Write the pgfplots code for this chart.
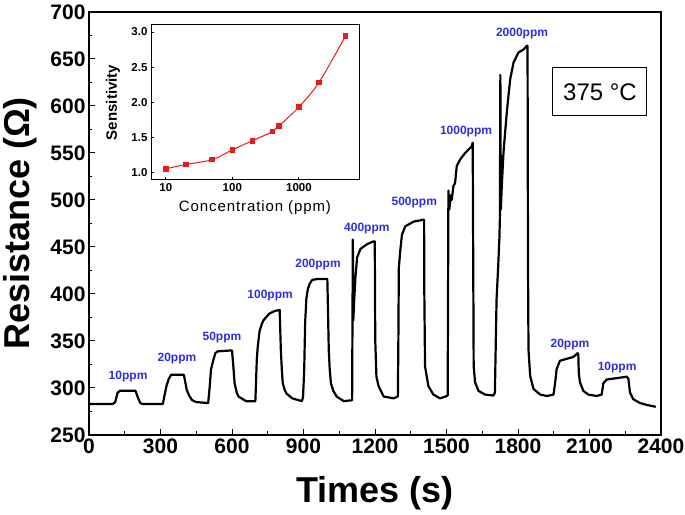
\documentclass[border=0pt]{standalone}
\usepackage{fontspec}
\setmainfont{Liberation Sans}
\usepackage{pgfplots}
\pgfplotsset{compat=1.18}
\definecolor{lblblue}{RGB}{45,45,225}
\definecolor{myred}{RGB}{235,25,25}
\begin{document}
\begin{tikzpicture}
\begin{axis}[
 name=main, scale only axis, width=572pt, height=423pt,
 xmin=0, xmax=2400, ymin=250, ymax=700,
 xtick={0,300,...,2400}, ytick={250,300,...,700},
 minor x tick num=1, minor y tick num=1,
 tick align=inside, xtick pos=bottom, ytick pos=left,
 major tick length=6pt, minor tick length=3.5pt,
 axis line style={line width=1.2pt},
 every tick/.style={line width=1pt, black},
 /pgf/number format/assume math mode=true,
 /pgf/number format/1000 sep={},
 tick label style={font=\fontsize{21}{24}\selectfont\bfseries},
 xlabel={Times (s)}, ylabel={Resistance (Ω)},
 label style={font=\fontsize{36}{40}\selectfont\bfseries},
 xlabel style={at={(axis description cs:0.5,-0.137)}, anchor=center},
 ylabel style={at={(axis description cs:-0.1206,0.5)}, anchor=center},
]
\coordinate (ll) at (rel axis cs:0,0);
\coordinate (ur) at (rel axis cs:1,1);
\addplot[black, line width=2.2pt, line join=round] coordinates {
(0,283) (100,283) (110,285) (120,295) (130,297) (195,297) (205,290) (215,284) (225,283)
(310,283) (315,290) (325,302) (335,310) (345,314) (398,314) (405,305) (410,298) (420,292) (433,287) (450,285)
(500,284) (506,300) (512,320) (522,330) (530,337) (540,339) (600,340) (605,325) (611,305) (620,295) (627,291) (659,286) (698,286)
(700,300) (704,330) (708,344) (716,361) (725,368) (732,372) (756,379) (780,382) (800,383) (805,340) (809,320) (813,305) (821,298) (829,294) (853,289) (893,286)
(898,290) (903,320) (907,370) (912,395) (918,405) (926,411) (937,415) (960,416) (1000,416) (1003,380) (1006,340) (1010,320) (1015,305) (1025,297) (1039,291) (1069,286) (1104,287)
(1107,458) (1109,372) (1113,395) (1118,418) (1125,439) (1139,448) (1167,453) (1194,456) (1199,456) (1201,351) (1206,312) (1215,302) (1236,291) (1278,289) (1296,291)
(1298,350) (1300,428) (1306,446) (1313,463) (1327,472) (1362,477) (1403,479) (1406,479) (1407,400) (1410,323) (1424,302) (1445,293) (1473,289) (1497,291)
(1505,292) (1508,510) (1512,490) (1518,505) (1522,500) (1529,515) (1536,518) (1543,536) (1557,543) (1578,550) (1606,557) (1610,561) (1612,440) (1614,323) (1620,306) (1634,297) (1662,293) (1697,292)
(1703,295) (1710,394) (1717,430) (1722,460) (1724,480) (1726,633) (1728,490) (1732,515) (1739,550) (1746,572) (1753,593) (1760,611) (1767,628) (1781,646) (1802,657) (1823,660) (1837,664) (1840,664)
(1842,430) (1844,341) (1851,313) (1865,299) (1893,293) (1921,291.5) (1949,293)
(1956,306) (1962,320) (1976,329) (2004,331) (2032,333) (2050,337) (2053,336) (2055,316) (2060,306) (2074,297) (2095,293) (2130,291.5) (2151,293)
(2158,305) (2172,309) (2200,310) (2256,312) (2263,310) (2270,295) (2284,288) (2312,284) (2340,282) (2378,280)
};
\begin{scope}[font=\fontsize{12}{14}\selectfont\bfseries, text=lblblue]
\node at (axis cs:164,312) {10ppm};
\node at (axis cs:369,331) {20ppm};
\node at (axis cs:558,354) {50ppm};
\node at (axis cs:760,398) {100ppm};
\node at (axis cs:961,431) {200ppm};
\node at (axis cs:1166,470) {400ppm};
\node at (axis cs:1365,497) {500ppm};
\node at (axis cs:1582,573) {1000ppm};
\node at (axis cs:1817,677) {2000ppm};
\node at (axis cs:2018,346) {20ppm};
\node at (axis cs:2216,322) {10ppm};
\end{scope}
\node[draw, line width=1pt, minimum width=94pt, minimum height=48pt, font=\fontsize{24}{28}\selectfont] at (axis cs:2144,615) {375 °C};
\end{axis}
\begin{axis}[
 at={(62pt,255pt)}, anchor=south west, scale only axis, width=208pt, height=155pt,
 xmode=log, xmin=6, xmax=8000, ymin=0.89, ymax=3.1,
 xtick={10,100,1000}, xticklabels={10,100,1000}, xminorticks=false,
 ytick={1,1.5,2,2.5,3},
 yticklabel style={/pgf/number format/.cd, fixed, fixed zerofill, precision=1},
 /pgf/number format/assume math mode=true,
 tick align=inside, xtick pos=bottom, ytick pos=left,
 major tick length=3pt,
 axis line style={line width=1pt},
 every tick/.style={line width=0.8pt, black},
 tick label style={font=\fontsize{11.5}{13}\selectfont\bfseries},
 xlabel={\addfontfeature{LetterSpace=6}Concentration (ppm)},
 ylabel={Sensitivity},
 xlabel style={font=\fontsize{15}{17}\selectfont, at={(axis description cs:0.5,-0.18)}, anchor=center},
 ylabel style={font=\fontsize{15}{17}\selectfont\bfseries, at={(axis description cs:-0.183,0.5)}, anchor=center},
]
\addplot[myred, line width=1pt, smooth, mark=square*, mark size=2.3pt, mark options={solid}] coordinates {
(10,1.05) (20,1.11) (50,1.18) (100,1.32) (200,1.45) (400,1.58) (500,1.66) (1000,1.93) (2000,2.28) (5000,2.94)
};
\end{axis}
\pgfresetboundingbox
\path ([shift={(-89pt,-80pt)}]ll) rectangle ([shift={(24pt,12pt)}]ur);
\end{tikzpicture}
\end{document}
